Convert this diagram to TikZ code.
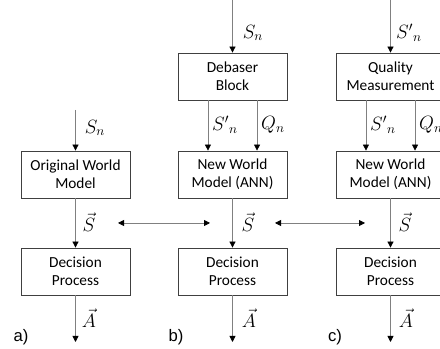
\documentclass[tikz,border=0pt]{standalone}
\usepackage{fontspec}
\setmainfont{Carlito}
\newfontfamily\labelfont{Liberation Sans}
\usetikzlibrary{positioning}
\usetikzlibrary{arrows.meta}

\tikzset{
  block/.style={draw=black!75, line width=0.6pt, minimum width=81.75pt, minimum height=35.25pt,
    align=center, font=\fontsize{11.5}{13.5}\selectfont, inner sep=1pt},
  flow/.style={draw=black!50, line width=0.6pt, -{Triangle[width=4.5pt,length=4.5pt,color=black]}},
  both/.style={draw=black!50, line width=0.6pt, {Triangle[width=4.5pt,length=4.5pt,color=black]}-{Triangle[width=4.5pt,length=4.5pt,color=black]}},
  sym/.style={font=\fontsize{14}{16}\selectfont, inner sep=0pt},
  tag/.style={font=\labelfont\fontsize{12.5}{14}\selectfont, inner sep=0pt}
}

\begin{document}
\begin{tikzpicture}[x=0.75pt, y=0.75pt]
  \useasboundingbox (0,0) rectangle (440,349);
  % column a
  \node[block] (owm) at (75.5,174.5) {Original World\\Model};
  \node[block] (dpa) at (75.5,77.5) {Decision\\Process};
  \coordinate (ina) at (75.5,239);
  \coordinate (outa) at (75.5,7);
  \draw[flow] (ina) -- (owm);
  \draw[flow] (owm) -- (dpa);
  \draw[flow] (dpa) -- (outa);
  \node[sym] (sna) at (95,221) {$S_n$};
  \node[sym] (sva) at (89,127) {$\vec{S}$};
  \node[sym] (ava) at (89,31) {$\vec{A}$};
  \node[tag] (la) at (21,12) {a)};

  % column b
  \node[block] (deb) at (232.5,272.5) {Debaser\\Block};
  \node[block] (nwb) at (232.5,174.5) {New World\\Model (ANN)};
  \node[block] (dpb) at (232.5,77.5) {Decision\\Process};
  \coordinate (inb) at (232.5,349);
  \coordinate (outb) at (232.5,7);
  \draw[flow] (inb) -- (deb);
  \draw[flow] ([xshift=-18.4pt]deb.south) -- ([xshift=-18.4pt]nwb.north);
  \draw[flow] ([xshift=18.4pt]deb.south) -- ([xshift=18.4pt]nwb.north);
  \draw[flow] (nwb) -- (dpb);
  \draw[flow] (dpb) -- (outb);
  \node[sym] (snb) at (253,316) {$S_n$};
  \node[sym] (spb) at (225,224) {$S'{}_n$};
  \node[sym] (qnb) at (273,224) {$Q_n$};
  \node[sym] (svb) at (248,127) {$\vec{S}$};
  \node[sym] (avb) at (249,31) {$\vec{A}$};
  \node[tag] (lb) at (176,12) {b)};

  % column c
  \node[block] (qm) at (390.5,272.5) {Quality\\Measurement};
  \node[block] (nwc) at (390.5,174.5) {New World\\Model (ANN)};
  \node[block] (dpc) at (390.5,77.5) {Decision\\Process};
  \coordinate (inc) at (390.5,349);
  \coordinate (outc) at (390.5,7);
  \draw[flow] (inc) -- (qm);
  \draw[flow] ([xshift=-18.4pt]qm.south) -- ([xshift=-18.4pt]nwc.north);
  \draw[flow] ([xshift=18.4pt]qm.south) -- ([xshift=18.4pt]nwc.north);
  \draw[flow] (nwc) -- (dpc);
  \draw[flow] (dpc) -- (outc);
  \node[sym] (spc) at (409,316) {$S'{}_n$};
  \node[sym] (spc2) at (383,224) {$S'{}_n$};
  \node[sym] (qnc) at (431,224) {$Q_n$};
  \node[sym] (svc) at (405,127) {$\vec{S}$};
  \node[sym] (avc) at (406,31) {$\vec{A}$};
  \node[tag] (lc) at (335,12) {c)};

  % links between columns
  \coordinate (ab1) at (118,126);
  \coordinate (ab2) at (210,126);
  \coordinate (bc1) at (275,126);
  \coordinate (bc2) at (365,126);
  \draw[both] (ab1) -- (ab2);
  \draw[both] (bc1) -- (bc2);
\end{tikzpicture}
\end{document}
